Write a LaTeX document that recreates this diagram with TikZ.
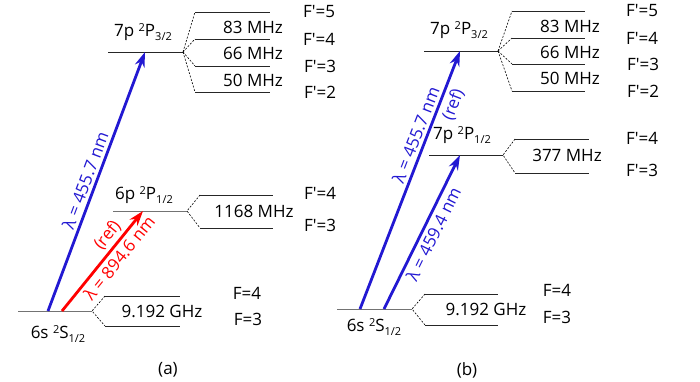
\documentclass[tikz,border=0pt]{standalone}
\usepackage{fontspec}
\setmainfont{Open Sans}
\usetikzlibrary{arrows.meta}
\definecolor{laserblue}{RGB}{34,24,210}
\definecolor{laserred}{RGB}{255,0,0}
\newcommand{\lsub}[1]{\raisebox{-4pt}{\fontsize{11}{12}\selectfont #1}}
\newcommand{\lsup}[1]{\raisebox{5pt}{\fontsize{11}{12}\selectfont #1}}
\tikzset{every node/.style={font=\fontsize{17}{20}\selectfont, inner sep=1pt},
  level/.style={black!55, line width=0.9pt},
  hfs/.style={black!85, line width=0.9pt},
  split/.style={black, line width=0.6pt, dash pattern=on 2pt off 1.5pt},
  laser/.style={line width=2.8pt, -{Stealth[length=15pt,width=10pt]}}}

\begin{document}
\begin{tikzpicture}[x=1pt,y=1pt]
  \useasboundingbox (0,0) rectangle (700,381);
  \begin{scope}
   % 6s ground state
   \coordinate (sL) at (18,70);  \coordinate (sR) at (92,70);
   \coordinate (s4) at (105,85); \coordinate (s4e) at (180,85);
   \coordinate (s3) at (105,55); \coordinate (s3e) at (180,55);
   \draw[level] (sL) -- (sR);
   \draw[split] (s4) -- (sR) -- (s3);
   \draw[hfs] (s4) -- (s4e);
   \draw[hfs] (s3) -- (s3e);
   \node (sname) at (58,47) {6s \lsup{2}S\lsub{1/2}};
   \node (sgap) at (162,70) {9.192 GHz};
   \node (sF4) at (247,88) {F=4};
   \node (sF3) at (248,62) {F=3};
   % 6p 2P1/2
   \coordinate (pL) at (113,170); \coordinate (pR) at (187,170);
   \coordinate (p4) at (200,186); \coordinate (p4e) at (273,186);
   \coordinate (p3) at (200,153); \coordinate (p3e) at (273,153);
   \draw[level] (pL) -- (pR);
   \draw[split] (p4) -- (pR) -- (p3);
   \draw[hfs] (p4) -- (p4e);
   \draw[hfs] (p3) -- (p3e);
   \node (pname) at (144,186) {6p \lsup{2}P\lsub{1/2}};
   \node (pgap) at (254,170) {1168 MHz};
   \node (pF4) at (320,188) {F′=4};
   \node (pF3) at (320,156) {F′=3};
   % 7p 2P3/2
   \coordinate (tL) at (108,329); \coordinate (tR) at (183,329);
   \coordinate (t5) at (195,369); \coordinate (t5e) at (270,369);
   \coordinate (t4) at (195,342); \coordinate (t4e) at (270,342);
   \coordinate (t3) at (195,315); \coordinate (t3e) at (270,315);
   \coordinate (t2) at (195,289); \coordinate (t2e) at (270,289);
   \draw[hfs] (tL) -- (tR);
   \foreach \f in {t5,t4,t3,t2} {
     \draw[split] (tR) -- (\f);
     \draw[hfs] (\f) -- (\f e);
   }
   \node (tname) at (143,349) {7p \lsup{2}P\lsub{3/2}};
   \node (tgapA) at (253,354) {83 MHz};
   \node (tgapB) at (253,328) {66 MHz};
   \node (tgapC) at (253,301) {50 MHz};
   \node (tF5) at (319,369) {F′=5};
   \node (tF4) at (319,342) {F′=4};
   \node (tF3) at (320,315) {F′=3};
   \node (tF2) at (320,289) {F′=2};
   % lasers
   \coordinate (blueA) at (48,70);  \coordinate (blueB) at (145,329);
   \coordinate (redA) at (62,70);   \coordinate (redB) at (143,170);
   \draw[laser, laserblue] (blueA) -- node[pos=0.49, sloped, above=2pt] (blam) {λ = 455.7 nm} (blueB);
   \draw[laser, laserred] (redA) -- node[pos=0.6, sloped, below=2pt] (rlam) {λ = 894.6 nm}
                                     node[pos=0.68, sloped, above=2pt] (rref) {(ref)} (redB);
   \node (capa) at (168,11) {(a)};
  \end{scope}
  \begin{scope}
   % 6s ground state
   \coordinate (sL) at (337,72);  \coordinate (sR) at (412,72);
   \coordinate (s4) at (425,87);  \coordinate (s4e) at (498,87);
   \coordinate (s3) at (425,56);  \coordinate (s3e) at (498,56);
   \draw[level] (sL) -- (sR);
   \draw[split] (s4) -- (sR) -- (s3);
   \draw[hfs] (s4) -- (s4e);
   \draw[hfs] (s3) -- (s3e);
   \node (sname) at (374,54) {6s \lsup{2}S\lsub{1/2}};
   \node (sgap) at (486,72) {9.192 GHz};
   \node (sF4) at (557,91) {F=4};
   \node (sF3) at (557,64) {F=3};
   % 7p 2P1/2
   \coordinate (pL) at (429,226); \coordinate (pR) at (503,226);
   \coordinate (p4) at (515,242); \coordinate (p4e) at (589,242);
   \coordinate (p3) at (515,208); \coordinate (p3e) at (589,208);
   \draw[hfs] (pL) -- (pR);
   \draw[split] (p4) -- (pR) -- (p3);
   \draw[hfs] (p4) -- (p4e);
   \draw[hfs] (p3) -- (p3e);
   \node (pname) at (462,246) {7p \lsup{2}P\lsub{1/2}};
   \node (pgap) at (567,226) {377 MHz};
   \node (pF4) at (642,243) {F′=4};
   \node (pF3) at (642,211) {F′=3};
   % 7p 2P3/2
   \coordinate (tL) at (424,330); \coordinate (tR) at (498,330);
   \coordinate (t5) at (512,370); \coordinate (t5e) at (585,370);
   \coordinate (t4) at (512,343); \coordinate (t4e) at (585,343);
   \coordinate (t3) at (512,317); \coordinate (t3e) at (585,317);
   \coordinate (t2) at (512,290); \coordinate (t2e) at (585,290);
   \draw[hfs] (tL) -- (tR);
   \foreach \f in {t5,t4,t3,t2} {
     \draw[split] (tR) -- (\f);
     \draw[hfs] (\f) -- (\f e);
   }
   \node (tname) at (459,351) {7p \lsup{2}P\lsub{3/2}};
   \node (tgapA) at (570,355) {83 MHz};
   \node (tgapB) at (570,329) {66 MHz};
   \node (tgapC) at (570,303) {50 MHz};
   \node (tF5) at (642,370) {F′=5};
   \node (tF4) at (642,343) {F′=4};
   \node (tF3) at (643,317) {F′=3};
   \node (tF2) at (643,290) {F′=2};
   % lasers
   \coordinate (blueA) at (360,72); \coordinate (blueB) at (460,330);
   \coordinate (violA) at (384,72); \coordinate (violB) at (460,226);
   \draw[laser, laserblue] (blueA) -- node[pos=0.66, sloped, above=2pt] (blam) {λ = 455.7 nm}
                                      node[pos=0.81, sloped, below=3pt] (bref) {(ref)} (blueB);
   \draw[laser, laserblue] (violA) -- node[pos=0.52, sloped, below=2pt] (vlam) {λ = 459.4 nm} (violB);
   \node (capb) at (467,11) {(b)};
  \end{scope}
\end{tikzpicture}
\end{document}
